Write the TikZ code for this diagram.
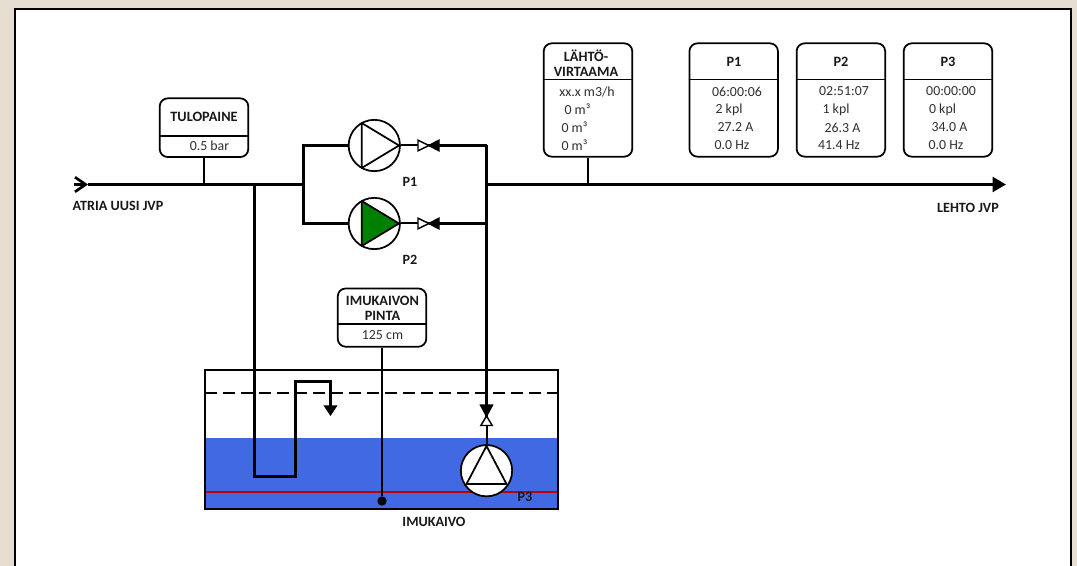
\documentclass[tikz,border=0pt]{standalone}
\usepackage{fontspec}
\setmainfont{Carlito}
\usetikzlibrary{arrows.meta,calc}
\definecolor{beige}{HTML}{E4DDD0}
\definecolor{water}{HTML}{4169E1}
\definecolor{valtxt}{HTML}{303030}
\tikzset{
  panelbox/.style={draw=black,fill=white,line width=1.3pt,rounded corners=6pt,inner sep=0pt,minimum width=66.4pt},
  divider/.style={line width=1.1pt},
  stem/.style={line width=1.5pt},
  pipe/.style={line width=2.25pt},
  pump/.style={circle,draw=black,fill=white,line width=1.3pt,minimum size=38.5pt,inner sep=0pt},
  title/.style={font=\bfseries\fontsize{10.7}{11.25}\selectfont,align=center,inner sep=0pt,text=black!90},
  val/.style={font=\fontsize{10.4}{11}\selectfont,inner sep=0pt,text=valtxt},
  tag/.style={font=\bfseries\fontsize{10.6}{11}\selectfont,inner sep=0pt,text=black!90},
  vwhite/.style={draw=black,fill=white,line width=1.1pt,line join=miter},
  vblack/.style={draw=black,fill=black,line width=1.1pt,line join=miter},
  ptri/.style={draw=black,line width=1.3pt,line join=round},
}
\begin{document}
\begin{tikzpicture}[x=0.75pt,y=-0.75pt]
\useasboundingbox (0,0) rectangle (1077,566);
\fill[beige] (0,0) rectangle (1077,566);
\fill[white] (15,9) rectangle (1071,570);
\draw[line width=2pt] (15,570) -- (15,9) -- (1071,9) -- (1071,570);

% tank
\fill[water] (205,438) rectangle (558,509.5);
\draw[red!75!black,line width=0.8pt] (205,492) -- (558,492);
\draw[line width=1.5pt,dash pattern=on 9pt off 4.5pt] (205,393) -- (558,393);
\node[draw=black,line width=1.5pt,minimum width=264.75pt,minimum height=104.25pt,inner sep=0pt] (tank) at (381.5,439.5) {};

% junctions
\coordinate (inlet) at (74,184.5);
\coordinate (barb) at (88,184.5);
\coordinate (tap1) at (204,184.5);
\coordinate (tap2) at (254.5,184.5);
\coordinate (split) at (303.5,184.5);
\coordinate (merge) at (486.5,184.5);
\coordinate (tap3) at (588,184.5);
\coordinate (outlet) at (1006,184.5);
\coordinate (s1) at (303.5,145.5);
\coordinate (s2) at (303.5,223.5);
\coordinate (m1) at (486.5,145.5);
\coordinate (m2) at (486.5,223.5);
\coordinate (v1) at (429,145.5);
\coordinate (v2) at (429,223.5);
\coordinate (v3) at (486.5,418);
\coordinate (sa) at (254.5,476.5);
\coordinate (sb) at (295.5,476.5);
\coordinate (sc) at (295.5,381.5);
\coordinate (sd) at (330.5,381.5);
\coordinate (se) at (330.5,416);

% pumps
\node[pump] (P1) at (374.3,145.5) {};
\node[pump] (P2) at (374.3,223.5) {};
\node[pump] (P3) at (486.5,470.7) {};
\draw[ptri] (399,145.5) -- (361.7,123) -- (361.7,168) -- cycle;
\draw[ptri,fill=green!50!black] (399,223.5) -- (361.7,201) -- (361.7,246) -- cycle;
\draw[ptri] (486.5,446) -- (466.5,484) -- (506.5,484) -- cycle;

% pipes
\draw[pipe,-{Straight Barb[length=8pt,width=11pt,line width=2pt]}] (inlet) -- (barb);
\draw[pipe] (barb) -- (split);
\draw[pipe,line join=miter] (P1.west) -- (s1) -- (s2) -- (P2.west);
\draw[pipe,-{Triangle[length=10pt,width=11pt]}] (merge) -- (outlet);
\draw[pipe] (m1) -- (v1);
\draw[pipe] (m2) -- (v2);
\draw[line width=1.5pt] (P1.east) -- (v1);
\draw[line width=1.5pt] (P2.east) -- (v2);
\draw[pipe,line join=miter] (m1) -- (v3);
\draw[line width=1.5pt] (v3) -- (P3.north);
\draw[pipe,line cap=rect] (tap2) -- (sa) -- (sb) -- (sc) -- (sd);
\draw[pipe,-{Triangle[length=8pt,width=10pt]}] (sd) -- (se);

% valves
\draw[vwhite] (429,145.5) -- (418,140.2) -- (418,150.8) -- cycle;
\draw[vblack] (429,145.5) -- (439,140.2) -- (439,150.8) -- cycle;
\draw[vwhite] (429,223.5) -- (418,218.2) -- (418,228.8) -- cycle;
\draw[vblack] (429,223.5) -- (439,218.2) -- (439,228.8) -- cycle;
\draw[vblack] (486.5,416) -- (480.5,405) -- (492.5,405) -- cycle;
\draw[vwhite] (486.5,416) -- (480.8,425.5) -- (492.2,425.5) -- cycle;

% instrument boxes
\node[panelbox,minimum height=44pt] (tulo) at (204,127.7) {};
\draw[divider] (tulo.west |- 0,136) -- (tulo.east |- 0,136);
\node[panelbox,minimum height=85pt] (lahto) at (588,100) {};
\draw[divider] (lahto.west |- 0,79.5) -- (lahto.east |- 0,79.5);
\node[panelbox,minimum height=85pt] (bp1) at (733.7,100) {};
\draw[divider] (bp1.west |- 0,79.5) -- (bp1.east |- 0,79.5);
\node[panelbox,minimum height=85pt] (bp2) at (840.9,100) {};
\draw[divider] (bp2.west |- 0,79.5) -- (bp2.east |- 0,79.5);
\node[panelbox,minimum height=85pt] (bp3) at (948,100) {};
\draw[divider] (bp3.west |- 0,79.5) -- (bp3.east |- 0,79.5);
\node[panelbox,minimum height=43.7pt] (imu) at (382,317.6) {};
\draw[divider] (imu.west |- 0,324) -- (imu.east |- 0,324);

% stems
\draw[stem] (tulo.south) -- (tap1);
\draw[stem] (lahto.south) -- (tap3);
\node[circle,fill=black,minimum size=7pt,inner sep=0pt] (lvl) at (382,501) {};
\draw[stem] (imu.south) -- (lvl);

% box texts
\node[title] (t1) at (204,117) {TULOPAINE};
\node[val] (t1a) at (209.5,146) {0.5 bar};
\node[title] (t2) at (586,63) {LÄHTÖ-\\VIRTAAMA};
\node[val] (t2a) at (587,91.5) {xx.x m3/h};
\node[val] (t2b) at (577.5,109.5) {0 m³};
\node[val] (t2c) at (574.5,127.5) {0 m³};
\node[val] (t2d) at (574.5,145.5) {0 m³};
\node[title] (t3) at (734,62) {P1};
\node[val] (t3a) at (737,91.5) {06:00:06};
\node[val] (t3b) at (729,109.5) {2 kpl};
\node[val] (t3c) at (735.5,127.5) {27.2 A};
\node[val] (t3d) at (732,145.5) {0.0 Hz};
\node[title] (t4) at (841,62) {P2};
\node[val] (t4a) at (844,91.5) {02:51:07};
\node[val] (t4b) at (836,109.5) {1 kpl};
\node[val] (t4c) at (842.5,127.5) {26.3 A};
\node[val] (t4d) at (839,145.5) {41.4 Hz};
\node[title] (t5) at (948,62) {P3};
\node[val] (t5a) at (951,91.5) {00:00:00};
\node[val] (t5b) at (942.5,109.5) {0 kpl};
\node[val] (t5c) at (949.5,127.5) {34.0 A};
\node[val] (t5d) at (946,145.5) {0.0 Hz};
\node[title] (t6) at (382.5,308.5) {IMUKAIVON\\PINTA};
\node[val] (t6a) at (382.5,335.5) {125 cm};

% labels
\node[tag] (l1) at (118,206) {ATRIA UUSI JVP};
\node[tag] (l2) at (968,208) {LEHTO JVP};
\node[tag] (l3) at (410,181.7) {P1};
\node[tag] (l4) at (410,260) {P2};
\node[tag] (l5) at (525,497) {P3};
\node[tag] (l6) at (434,522) {IMUKAIVO};
\end{tikzpicture}
\end{document}
